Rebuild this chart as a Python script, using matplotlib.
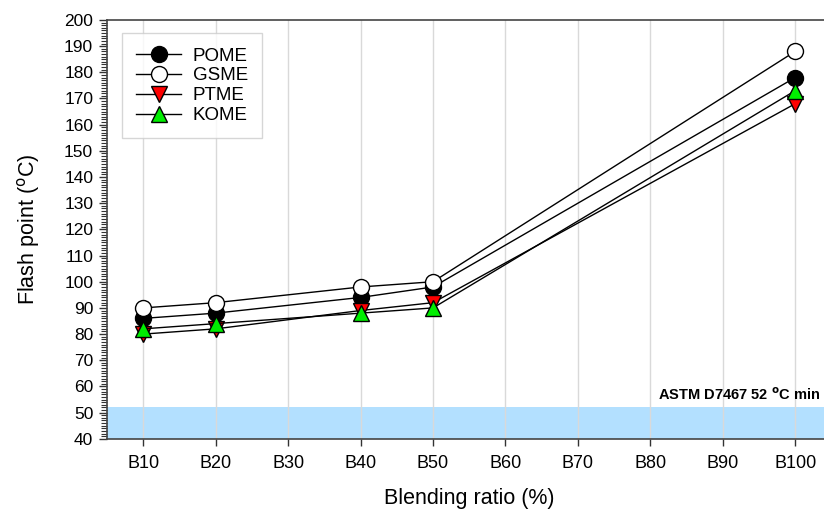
import numpy as np
import matplotlib
matplotlib.use("Agg")
import matplotlib.pyplot as plt
from matplotlib.ticker import MultipleLocator

plt.rcParams['font.family'] = ['Liberation Sans', 'DejaVu Sans']

# blending ratio categories
categories = ['B10', 'B20', 'B30', 'B40', 'B50', 'B60', 'B70', 'B80', 'B90', 'B100']
# measured blends (positions in category list)
measured = ['B10', 'B20', 'B40', 'B50', 'B100']

pome = [86, 88, 94, 98, 178]
gsme = [90, 92, 98, 100, 188]
ptme = [80, 82, 89, 92, 168]
kome = [82, 84, 88, 90, 173]

astm_min = 52

fig = plt.figure(figsize=(8.24, 5.12), dpi=100)
ax = fig.add_axes([0.130, 0.143, 0.879, 0.818])

xpos = np.arange(1, len(categories) + 1)
xm = [categories.index(c) + 1 for c in measured]

ax.axhspan(40, astm_min, color='#b3e0ff', zorder=0, lw=0)
# label sits at the right edge of the visible figure
ax.text(0.984, 57, 'ASTM D7467 52 $^{\\mathbf{o}}$C min', ha='right', va='center',
        fontsize=10.5, fontweight='bold', transform=ax.get_yaxis_transform())

style = dict(color='black', lw=1, markersize=11.5, markeredgecolor='black', markeredgewidth=1)
ax.plot(xm, pome, marker='o', markerfacecolor='black', label='POME', **style)
ax.plot(xm, gsme, marker='o', markerfacecolor='white', label='GSME', **style)
ax.plot(xm, ptme, marker='v', markerfacecolor='red', label='PTME', **style)
ax.plot(xm, kome, marker='^', markerfacecolor='#00ee00', label='KOME', **style)

ax.set_xlim(0.5, 10.5)
ax.set_ylim(40, 200)
ax.set_xticks(xpos)
ax.set_xticklabels(categories, fontsize=13)
ax.yaxis.set_major_locator(MultipleLocator(10))
ax.yaxis.set_minor_locator(MultipleLocator(1))
ax.tick_params(axis='y', labelsize=12.5, length=6, width=1, color='#333333', pad=4)
ax.tick_params(axis='y', which='minor', length=4, width=0.8, color='#333333')
ax.tick_params(axis='x', length=5, width=1, color='#333333', pad=7)

ax.grid(axis='x', color='#d9d9d9', lw=1)
ax.set_axisbelow(True)
for s in ['left', 'bottom', 'top']:
    ax.spines[s].set_color('#444444')
    ax.spines[s].set_linewidth(1.2)
ax.spines['right'].set_visible(False)

ax.set_xlabel('Blending ratio (%)', fontsize=15.5, labelpad=11)
ax.set_ylabel('Flash point ($^{\\mathrm{o}}$C)', fontsize=15.5, labelpad=16)

leg = ax.legend(loc='upper left', bbox_to_anchor=(0.021, 0.968), fontsize=13.5, frameon=True,
                fancybox=False, edgecolor='#cccccc', handlelength=2.4, handletextpad=0.6,
                borderpad=0.75, labelspacing=0.15, borderaxespad=0)
leg.get_frame().set_linewidth(1)

fig.savefig('out.png', dpi=100)
